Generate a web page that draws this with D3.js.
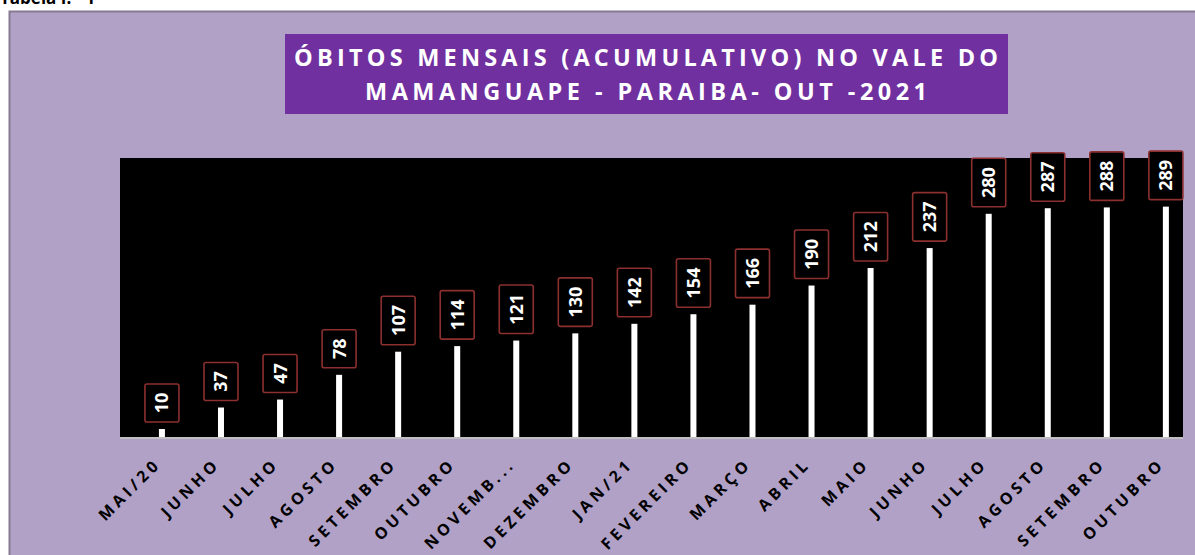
<!DOCTYPE html>
<html>
<head>
<meta charset="utf-8">
<script src="https://cdn.jsdelivr.net/npm/d3@7"></script>
<style>
  body { margin: 0; background: #fff; }
  svg { display: block; }
</style>
</head>
<body>
<div id="chart-area"></div>
<script>
// Dados do gráfico
var meses = ["MAI/20", "JUNHO", "JULHO", "AGOSTO", "SETEMBRO", "OUTUBRO", "NOVEMB...", "DEZEMBRO",
             "JAN/21", "FEVEREIRO", "MARÇO", "ABRIL", "MAIO", "JUNHO ", "JULHO ", "AGOSTO ",
             "SETEMBRO ", "OUTUBRO "];
var obitos = [10, 37, 47, 78, 107, 114, 121, 130, 142, 154, 166, 190, 212, 237, 280, 287, 288, 289];
var titulo = ["ÓBITOS MENSAIS (ACUMULATIVO) NO VALE DO", "MAMANGUAPE - PARAIBA- OUT -2021"];
var larguraTitulo = [704, 562];

var W = 1195, H = 555;
var plot = { left: 120, right: 1183, top: 158, bottom: 437 };

var svg = d3.select("#chart-area").append("svg")
    .attr("width", W)
    .attr("height", H);

// Texto cortado no topo
svg.append("text")
    .attr("x", 0)
    .attr("y", 4)
    .style("font-family", "'Open Sans', sans-serif")
    .style("font-weight", "bold")
    .style("font-size", "17px")
    .text("Tabela I. - 1");

// Fundo lilás do gráfico
svg.append("rect")
    .attr("x", 9).attr("y", 11)
    .attr("width", W - 9).attr("height", H - 11)
    .attr("fill", "#b1a1c7");
svg.append("path")
    .attr("d", "M9.5," + H + "V11.5H" + W)
    .attr("fill", "none")
    .attr("stroke", "#857a92")
    .attr("stroke-width", 2);

// Caixa do título
svg.append("rect")
    .attr("x", 285).attr("y", 34)
    .attr("width", 723).attr("height", 80)
    .attr("fill", "#7030a0");

svg.selectAll(".titulo")
    .data(titulo)
    .enter().append("text")
    .attr("class", "titulo")
    .attr("x", 646)
    .attr("y", function(d, i) { return 66 + i * 34; })
    .attr("text-anchor", "middle")
    .attr("textLength", function(d, i) { return larguraTitulo[i]; })
    .attr("lengthAdjust", "spacing")
    .attr("fill", "#fff")
    .style("font-family", "'Open Sans', sans-serif")
    .style("font-weight", "bold")
    .style("font-size", "23.5px")
    .text(function(d) { return d; });

// Área de plotagem
svg.append("rect")
    .attr("x", plot.left).attr("y", plot.top)
    .attr("width", plot.right - plot.left)
    .attr("height", plot.bottom - plot.top)
    .attr("fill", "#000");

// Escalas
var x = d3.scaleBand().domain(meses).range([plot.left, plot.right]);
var y = d3.scaleLinear().domain([0, 350]).range([plot.bottom, plot.top]);
var barW = 6;
function cx(d) { return x(d) + x.bandwidth() * 0.71; }

// Barras
svg.selectAll(".barra")
    .data(meses)
    .enter().append("rect")
    .attr("class", "barra")
    .attr("x", function(d) { return cx(d) - barW / 2; })
    .attr("y", function(d, i) { return y(obitos[i]); })
    .attr("width", barW)
    .attr("height", function(d, i) { return plot.bottom - y(obitos[i]); })
    .attr("fill", "#fff");

// Eixo X
svg.append("line")
    .attr("x1", plot.left).attr("x2", plot.right)
    .attr("y1", plot.bottom + 1).attr("y2", plot.bottom + 1)
    .attr("stroke", "#bfbfbf")
    .attr("stroke-width", 2);

// Rótulos de dados
function alturaCaixa(v) { return String(v).length * 10.5 + 17; }

var rotulos = svg.selectAll(".rotulo")
    .data(meses)
    .enter().append("g")
    .attr("class", "rotulo")
    .attr("transform", function(d, i) {
        return "translate(" + cx(d) + "," + (y(obitos[i]) - 7) + ")";
    });

rotulos.append("rect")
    .attr("x", -17)
    .attr("y", function(d, i) { return -alturaCaixa(obitos[i]); })
    .attr("width", 34)
    .attr("height", function(d, i) { return alturaCaixa(obitos[i]); })
    .attr("rx", 2)
    .attr("fill", "#000")
    .attr("stroke", "#8c2f2f")
    .attr("stroke-width", 1.6);

rotulos.append("text")
    .attr("transform", function(d, i) {
        return "translate(6.5," + (-alturaCaixa(obitos[i]) / 2) + ") rotate(-90)";
    })
    .attr("text-anchor", "middle")
    .attr("fill", "#fff")
    .style("font-family", "'Open Sans', sans-serif")
    .style("font-weight", "bold")
    .style("font-size", "18px")
    .text(function(d, i) { return obitos[i]; });

// Rótulos do eixo X
svg.selectAll(".mes")
    .data(meses)
    .enter().append("text")
    .attr("class", "mes")
    .attr("transform", function(d) {
        return "translate(" + cx(d) + ",465) rotate(-45)";
    })
    .attr("text-anchor", "end")
    .attr("fill", "#000")
    .style("font-family", "'Open Sans', sans-serif")
    .style("font-weight", "bold")
    .style("font-size", "16px")
    .style("letter-spacing", "4px")
    .text(function(d) { return d.trim(); });
</script>
</body>
</html>
